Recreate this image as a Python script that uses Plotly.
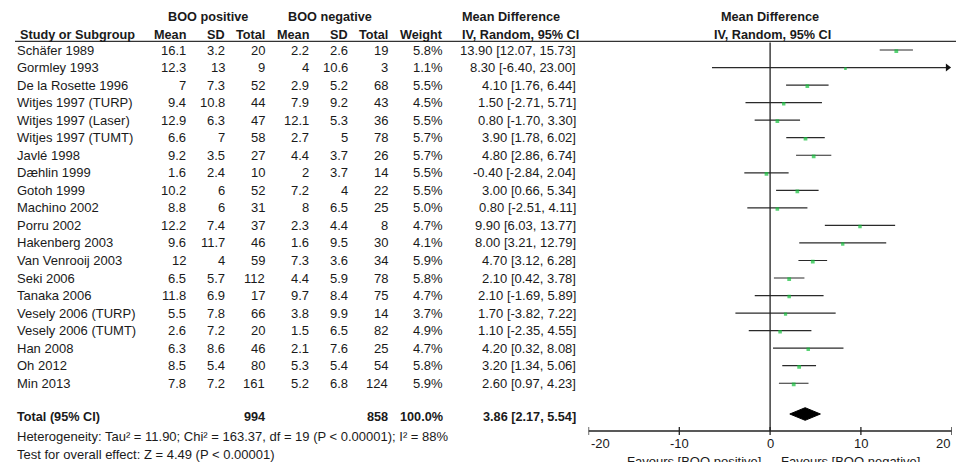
import plotly.graph_objects as go

# ---------------- data ----------------
studies = ["Schäfer 1989", "Gormley 1993", "De la Rosette 1996", "Witjes 1997 (TURP)",
           "Witjes 1997 (Laser)", "Witjes 1997 (TUMT)", "Javlé 1998", "Dæhlin 1999",
           "Gotoh 1999", "Machino 2002", "Porru 2002", "Hakenberg 2003",
           "Van Venrooij 2003", "Seki 2006", "Tanaka 2006", "Vesely 2006 (TURP)",
           "Vesely 2006 (TUMT)", "Han 2008", "Oh 2012", "Min 2013"]
pos_mean = ["16.1", "12.3", "7", "9.4", "12.9", "6.6", "9.2", "1.6", "10.2", "8.8",
            "12.2", "9.6", "12", "6.5", "11.8", "5.5", "2.6", "6.3", "8.5", "7.8"]
pos_sd = ["3.2", "13", "7.3", "10.8", "6.3", "7", "3.5", "2.4", "6", "6",
          "7.4", "11.7", "4", "5.7", "6.9", "7.8", "7.2", "8.6", "5.4", "7.2"]
pos_n = [20, 9, 52, 44, 47, 58, 27, 10, 52, 31, 37, 46, 59, 112, 17, 66, 20, 46, 80, 161]
neg_mean = ["2.2", "4", "2.9", "7.9", "12.1", "2.7", "4.4", "2", "7.2", "8",
            "2.3", "1.6", "7.3", "4.4", "9.7", "3.8", "1.5", "2.1", "5.3", "5.2"]
neg_sd = ["2.6", "10.6", "5.2", "9.2", "5.3", "5", "3.7", "3.7", "4", "6.5",
          "4.4", "9.5", "3.6", "5.9", "8.4", "9.9", "6.5", "7.6", "5.4", "6.8"]
neg_n = [19, 3, 68, 43, 36, 78, 26, 14, 22, 25, 8, 30, 34, 78, 75, 14, 82, 25, 54, 124]
weight = [5.8, 1.1, 5.5, 4.5, 5.5, 5.7, 5.7, 5.5, 5.5, 5.0, 4.7, 4.1, 5.9, 5.8, 4.7,
          3.7, 4.9, 4.7, 5.8, 5.9]
md = [13.90, 8.30, 4.10, 1.50, 0.80, 3.90, 4.80, -0.40, 3.00, 0.80, 9.90, 8.00,
      4.70, 2.10, 2.10, 1.70, 1.10, 4.20, 3.20, 2.60]
ci_lo = [12.07, -6.40, 1.76, -2.71, -1.70, 1.78, 2.86, -2.84, 0.66, -2.51, 6.03, 3.21,
         3.12, 0.42, -1.69, -3.82, -2.35, 0.32, 1.34, 0.97]
ci_hi = [15.73, 23.00, 6.44, 5.71, 3.30, 6.02, 6.74, 2.04, 5.34, 4.11, 13.77, 12.79,
         6.28, 3.78, 5.89, 7.22, 4.55, 8.08, 5.06, 4.23]
total_pos_n = 994
total_neg_n = 858
total_weight = "100.0%"
total_md, total_lo, total_hi = 3.86, 2.17, 5.54
axis_ticks = [-20, -10, 0, 10, 20]
axis_min, axis_max = -20, 20
heterogeneity = "Heterogeneity: Tau² = 11.90; Chi² = 163.37, df = 19 (P < 0.00001); I² = 88%"
overall_test = "Test for overall effect: Z = 4.49 (P < 0.00001)"
favours_left = "Favours [BOO positive]"
favours_right = "Favours [BOO negative]"

# ---------------- layout helpers ----------------
W, H = 964, 462
OFF = 8                            # default page margin around the plot div
ROW0, ROWH = 50.0, 17.54           # screen y of first study row, row pitch


def r(py):
    """screen pixel y -> row units"""
    return (py - ROW0) / ROWH


def px(x):
    """screen pixel x -> paper fraction"""
    return (x - OFF) / W


FONT = "Liberation Sans, Arial, sans-serif"
FS = 13
FSB = 12.7
TXT = "#1a1a1a"

fig = go.Figure()

# CI lines
xs, ys = [], []
for i, (lo, hi) in enumerate(zip(ci_lo, ci_hi)):
    xs += [max(lo, axis_min), min(hi, axis_max - 0.35), None]
    ys += [i, i, None]
fig.add_trace(go.Scatter(x=xs, y=ys, mode="lines", line=dict(color="#2a2a2a", width=1.2),
                         hoverinfo="skip", showlegend=False))

# arrows for clipped CIs
arr_x = [axis_max - 0.45 for hi in ci_hi if hi > axis_max]
arr_y = [i for i, hi in enumerate(ci_hi) if hi > axis_max]
fig.add_trace(go.Scatter(x=arr_x, y=arr_y, mode="markers",
                         marker=dict(symbol="triangle-right", size=7, color="#111111",
                                     line=dict(width=0)),
                         hoverinfo="skip", showlegend=False))

# point estimates
fig.add_trace(go.Scatter(x=md, y=[i + 0.06 for i in range(len(md))], mode="markers",
                         marker=dict(symbol="square", color="#14c03c",
                                     size=[2.3 + 0.25 * w for w in weight],
                                     line=dict(width=0)),
                         showlegend=False))

# pooled diamond
dy = 0.36
yd = r(414)
fig.add_trace(go.Scatter(x=[total_lo, total_md, total_hi, total_md, total_lo],
                         y=[yd, yd - dy, yd, yd + dy, yd], mode="lines", fill="toself",
                         fillcolor="black", line=dict(color="black", width=1),
                         hoverinfo="skip", showlegend=False))

# zero line
fig.add_trace(go.Scatter(x=[0, 0], y=[r(42.5), r(431)], mode="lines",
                         line=dict(color="#222222", width=1.3), hoverinfo="skip",
                         showlegend=False))

# bottom axis
ya = r(431)
tx, ty = [axis_min, axis_max, None], [ya, ya, None]
for t in axis_ticks:
    tx += [t, t, None]
    ty += [r(427), r(435), None]
fig.add_trace(go.Scatter(x=tx, y=ty, mode="lines", line=dict(color="#222222", width=1.3),
                         hoverinfo="skip", showlegend=False))

ann = []


def text(x, y, s, anchor="left", bold=False, xref="paper", size=None):
    if size is None:
        size = FSB if bold else FS
    ann.append(dict(x=x, y=y, xref=xref, yref="y", text=f"<b>{s}</b>" if bold else s,
                    xanchor=anchor, yanchor="middle", showarrow=False,
                    font=dict(family=FONT, size=size, color=TXT)))


for t in axis_ticks:
    anchor = "left" if t == axis_min else ("right" if t == axis_max else "center")
    text(t, r(443.5), str(t), anchor, xref="x")

# columns (screen right edges, pixels)
COL_STUDY = 15
COL_R = [188, 227, 267, 311, 350, 390, 445, 578]

# headers
text(px(208), r(17), "BOO positive", "center", True)
text(px(330), r(17), "BOO negative", "center", True)
text(px(460), r(17), "Mean Difference", "left", True)
text(px(770), r(17), "Mean Difference", "center", True)
hy = r(35)
text(px(COL_STUDY + 3), hy, "Study or Subgroup", "left", True)
for c, h in zip(COL_R[:7], ["Mean", "SD", "Total", "Mean", "SD", "Total", "Weight"]):
    text(px(c), hy, h, "right", True)
text(px(460), hy, "IV, Random, 95% CI", "left", True)
text(px(772), hy, "IV, Random, 95% CI", "center", True)

# rows
for i, s in enumerate(studies):
    text(px(COL_STUDY), i, s, "left")
    vals = [pos_mean[i], pos_sd[i], str(pos_n[i]), neg_mean[i], neg_sd[i], str(neg_n[i]),
            f"{weight[i]:.1f}%", f"{md[i]:.2f} [{ci_lo[i]:.2f}, {ci_hi[i]:.2f}]"]
    for c, v in zip(COL_R, vals):
        text(px(c), i, v, "right")

# total row
ty_ = r(416.7)
text(px(COL_STUDY), ty_, "Total (95% CI)", "left", True)
text(px(COL_R[2]), ty_, str(total_pos_n), "right", True)
text(px(COL_R[5]), ty_, str(total_neg_n), "right", True)
text(px(COL_R[6]), ty_, total_weight, "right", True)
text(px(COL_R[7]), ty_, f"{total_md:.2f} [{total_lo:.2f}, {total_hi:.2f}]", "right", True)
text(px(COL_STUDY), r(436), heterogeneity, "left")
text(px(COL_STUDY), r(454), overall_test, "left")
text(px(763), r(461), favours_left, "right")
text(px(779), r(461), favours_right, "left")

shapes = [dict(type="line", xref="paper", yref="y", x0=px(15), x1=1, y0=r(41.3), y1=r(41.3),
               line=dict(color="#333333", width=1.3))]

fig.update_layout(
    width=W, height=H, margin=dict(l=0, r=0, t=0, b=0),
    paper_bgcolor="white", plot_bgcolor="white",
    xaxis=dict(domain=[px(588.5), px(951.7)], range=[axis_min, axis_max], visible=False,
               fixedrange=True),
    yaxis=dict(domain=[0, 1], range=[r(OFF + H), r(OFF)], visible=False, fixedrange=True),
    annotations=ann, shapes=shapes, showlegend=False,
)
fig.write_html("out.html")
